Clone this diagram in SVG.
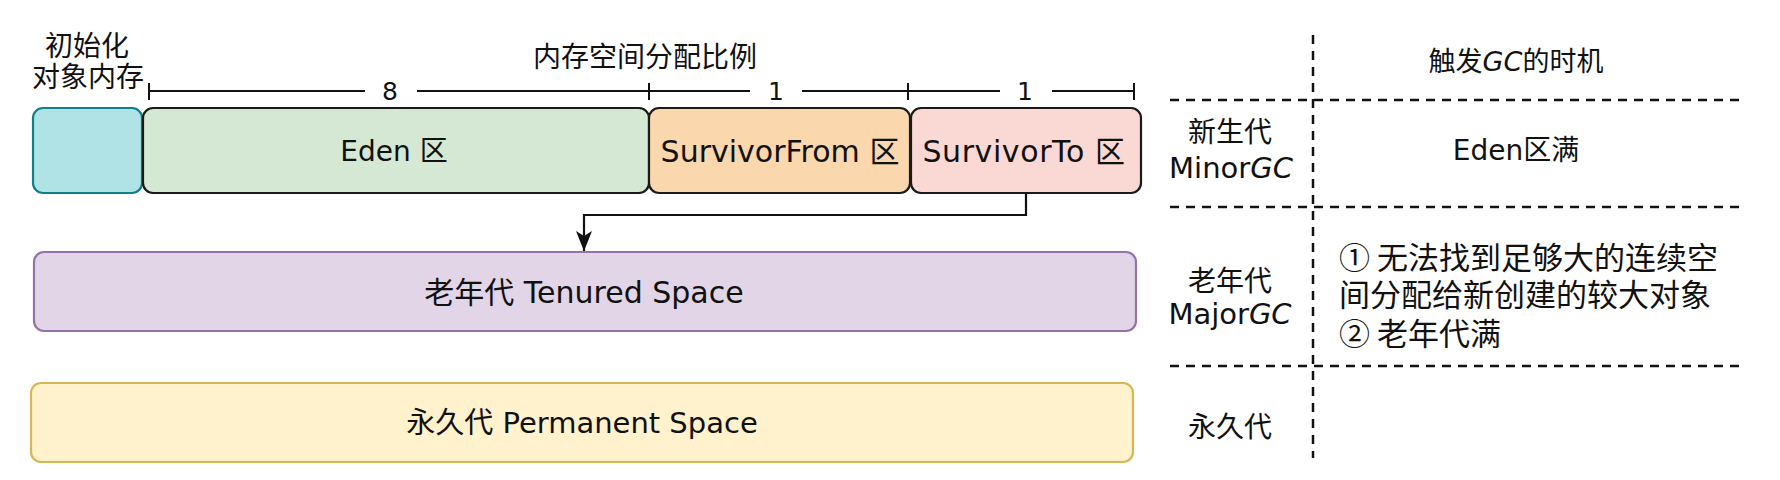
<svg xmlns="http://www.w3.org/2000/svg" width="1780" height="480" viewBox="0 0 1780 480">
  <style>
    text { font-family: "DejaVu Sans", "Noto Sans CJK SC", sans-serif; fill: #111; dominant-baseline: central; text-anchor: middle; }
    .cjk { font-family: "Noto Sans CJK SC", "Noto Sans", sans-serif; }
    .t27 { font-size: 27px; }
    .t28 { font-size: 28px; }
    .t29 { font-size: 29px; }
    .t30 { font-size: 30px; }
    .t31 { font-size: 31px; }
    .num { font-size: 25px; }
    .left { text-anchor: start; }
    .box { stroke-width: 2.2; }
    .dim { stroke: #111; stroke-width: 2; fill: none; }
    .dash { stroke: #111; stroke-width: 2.5; stroke-dasharray: 9 7; fill: none; }
    .conn { stroke: #111; stroke-width: 2.2; fill: none; }
  </style>
  <defs>
    <marker id="arrow" viewBox="0 0 20 16" refX="20" refY="8" markerWidth="20" markerHeight="16" markerUnits="userSpaceOnUse" orient="auto">
      <path d="M0,0 L20,8 L0,16 L5,8 Z" fill="#111"/>
    </marker>
  </defs>
  <rect width="1780" height="480" fill="#ffffff"/>

  <!-- labels above -->
  <g id="label-init">
    <text class="cjk t28"><tspan x="87" y="44">初始化</tspan><tspan x="88" y="75">对象内存</tspan></text>
  </g>
  <g id="label-ratio">
    <text class="cjk t28" x="645" y="55">内存空间分配比例</text>
  </g>

  <!-- nodes -->
  <g id="init-box">
    <rect class="box" x="33" y="108" width="109" height="85" rx="10" fill="#b0e3e6" stroke="#0e8088"/>
  </g>
  <g id="eden">
    <rect class="box" x="143" y="108" width="506" height="85" rx="10" fill="#d5e8d4" stroke="#1a1a1a"/>
    <text class="t28" x="394" y="151">Eden 区</text>
  </g>
  <g id="survivor-from">
    <rect class="box" x="649" y="108" width="261" height="85" rx="10" fill="#fad7ac" stroke="#1a1a1a"/>
    <text class="t30" x="780" y="151">SurvivorFrom 区</text>
  </g>
  <g id="survivor-to">
    <rect class="box" x="911" y="108" width="230" height="85" rx="10" fill="#fad9d5" stroke="#1a1a1a"/>
    <text class="t30" x="1024" y="151" letter-spacing="0.6">SurvivorTo 区</text>
  </g>
  <g id="tenured">
    <rect class="box" x="34" y="252" width="1102" height="79" rx="10" fill="#e1d5e7" stroke="#9673a6"/>
    <text class="t30" x="584" y="292">老年代 Tenured Space</text>
  </g>
  <g id="permanent">
    <rect class="box" x="31" y="383" width="1102" height="79" rx="10" fill="#fff2cc" stroke="#d6b656"/>
    <text class="t29" x="582" y="423">永久代 Permanent Space</text>
  </g>

  <!-- connectors -->
  <g id="connectors">
    <path class="dim" d="M149,91 H365 M417,91 H750 M802,91 H1000 M1052,91 H1134"/>
    <path class="dim" d="M149,83 V100 M649,83 V100 M908,83 V100 M1134,83 V100"/>
    <text class="num" x="390" y="91">8</text>
    <text class="num" x="776" y="91">1</text>
    <text class="num" x="1025" y="91">1</text>
    <path class="conn" d="M1026,193 V215 H584 V251" marker-end="url(#arrow)"/>
  </g>

  <!-- GC table -->
  <g id="gc-table">
    <path class="dash" d="M1313,35 V458"/>
    <path class="dash" d="M1170,100 H1742 M1170,207 H1742 M1170,366 H1742"/>
  </g>
  <g id="gc-header">
    <text class="t27" x="1516" y="61">触发<tspan font-style="italic">GC</tspan>的时机</text>
  </g>
  <g id="row-minor">
    <text class="t29"><tspan class="cjk" font-size="28" x="1230" y="130">新生代</tspan><tspan x="1231" y="168">Minor<tspan font-style="italic">GC</tspan></tspan></text>
    <text class="t28" x="1516" y="150">Eden区满</text>
  </g>
  <g id="row-major">
    <text class="t29"><tspan class="cjk" font-size="28" x="1230" y="279">老年代</tspan><tspan x="1230" y="314">Major<tspan font-style="italic">GC</tspan></tspan></text>
    <text class="cjk t31 left"><tspan x="1339" y="255">① 无法找到足够大的连续空</tspan><tspan x="1339" y="292">间分配给新创建的较大对象</tspan><tspan x="1339" y="331">② 老年代满</tspan></text>
  </g>
  <g id="row-perm">
    <text class="cjk t28" x="1230" y="425">永久代</text>
  </g>
</svg>
